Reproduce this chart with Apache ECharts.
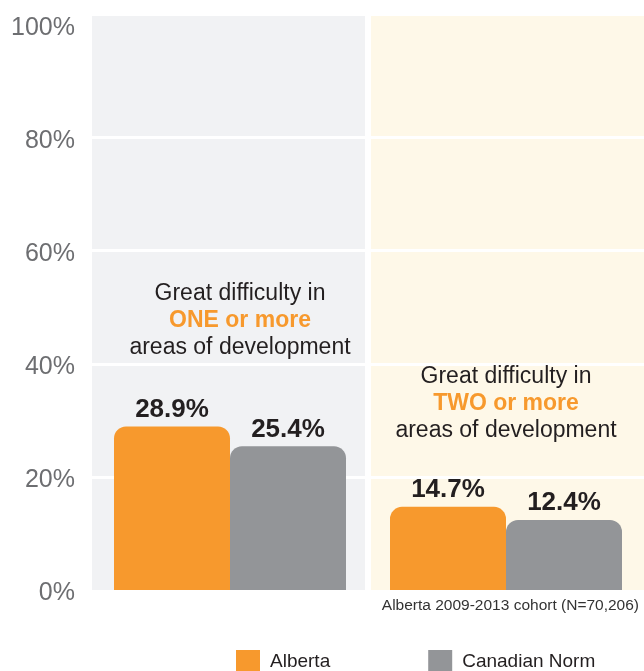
<!DOCTYPE html>
<html>
<head>
<meta charset="utf-8">
<script src="https://cdn.jsdelivr.net/npm/echarts@6/dist/echarts.min.js"></script>
<style>
  html, body { margin: 0; padding: 0; background: #fff; }
  #chart { width: 644px; height: 671px; }
</style>
</head>
<body>
<div id="chart"></div>
<script>
var categories = ['ONE or more', 'TWO or more'];
var albertaValues = [28.9, 14.7];
var canadianValues = [25.4, 12.4];
var seriesNames = ['Alberta', 'Canadian Norm'];
var panelNotes = [
    ['Great difficulty in', 'ONE or more', 'areas of development'],
    ['Great difficulty in', 'TWO or more', 'areas of development']
];
var sourceNote = 'Alberta 2009-2013 cohort (N=70,206)';

var font = '"Liberation Sans", Arial, Helvetica, sans-serif';
var clear = 'rgba(0,0,0,0)';

function noteText(lines) {
    return lines[0] + '\n{hl|' + lines[1] + '}\n' + lines[2];
}

function barLabel() {
    return {
        show: true, position: 'top', distance: 4,
        fontFamily: font, fontSize: 26, fontWeight: 'bold', color: '#231f20',
        formatter: '{c}%'
    };
}

var chart = echarts.init(document.getElementById('chart'));
var option = {
    animation: false,
    textStyle: { fontFamily: font },
    color: ['#f7992d', '#939598'],
    grid: { left: 92, width: 552, top: 16, bottom: 81 },
    legend: {
        data: seriesNames,
        left: 236,
        top: 650,
        padding: 0,
        itemWidth: 24,
        itemHeight: 24,
        itemGap: 98,
        icon: 'rect',
        textStyle: { fontFamily: font, fontSize: 19, color: '#231f20', padding: [2, 0, 0, 5] }
    },
    xAxis: {
        type: 'category',
        data: categories,
        z: 0,
        axisLine: { show: false },
        axisTick: { show: false },
        axisLabel: { show: false },
        splitArea: { show: true, areaStyle: { color: ['#f1f2f4', '#fef8e8'] } },
        splitLine: { show: true, lineStyle: { color: [clear, '#fff', clear], width: 6 } }
    },
    yAxis: {
        type: 'value',
        min: 0,
        max: 101.5,
        interval: 20,
        z: 1,
        axisLine: { show: false },
        axisTick: { show: false },
        axisLabel: {
            margin: 17,
            formatter: function (v) { return v % 20 === 0 ? '{t|' + v + '%}' : ''; },
            rich: {
                t: { fontFamily: font, fontSize: 25, color: '#6d6e71', padding: [7, 0, 0, 0] }
            }
        },
        splitLine: {
            lineStyle: {
                color: [clear, '#fff', '#fff', '#fff', '#fff', clear, clear],
                width: 3
            }
        }
    },
    series: [
        {
            name: seriesNames[0],
            type: 'bar',
            data: albertaValues,
            barWidth: 116,
            barGap: '0%',
            z: 3,
            itemStyle: { borderRadius: [12, 12, 0, 0] },
            label: barLabel()
        },
        {
            name: seriesNames[1],
            type: 'bar',
            data: canadianValues,
            barWidth: 116,
            z: 3,
            itemStyle: { borderRadius: [12, 12, 0, 0] },
            label: barLabel()
        }
    ],
    graphic: [
        {
            type: 'text', x: 240, y: 280, z: 10,
            style: {
                text: noteText(panelNotes[0]), align: 'center',
                font: '23px ' + font, fill: '#231f20', lineHeight: 27,
                rich: { hl: { fontFamily: font, fontWeight: 'bold', fill: '#f7992d', fontSize: 23, lineHeight: 27 } }
            }
        },
        {
            type: 'text', x: 506, y: 363, z: 10,
            style: {
                text: noteText(panelNotes[1]), align: 'center',
                font: '23px ' + font, fill: '#231f20', lineHeight: 27,
                rich: { hl: { fontFamily: font, fontWeight: 'bold', fill: '#f7992d', fontSize: 23, lineHeight: 27 } }
            }
        },
        {
            type: 'text', right: 5, top: 598,
            style: { text: sourceNote, font: '15.5px ' + font, fill: '#333' }
        }
    ]
};
chart.setOption(option);
window.addEventListener('resize', function () { chart.resize(); });
</script>
</body>
</html>
